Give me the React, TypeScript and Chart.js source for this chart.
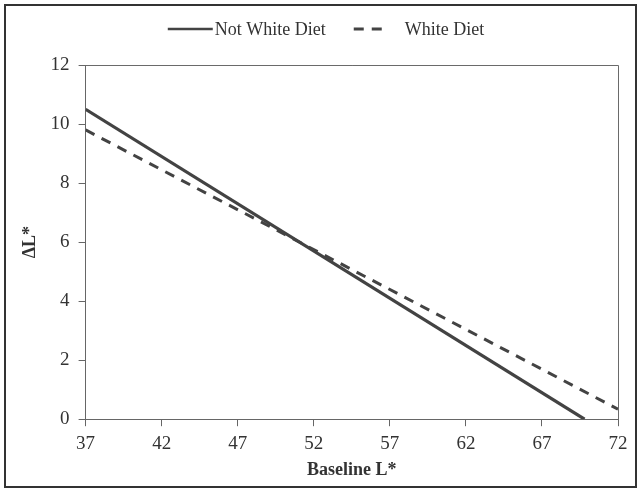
import React, { useEffect, useRef } from "react";
import { Chart, registerables } from "chart.js";

Chart.register(...registerables);

const xValues = [37, 69.8];
const notWhiteDiet = [10.5, 0];
const xValuesWhite = [37, 72];
const whiteDiet = [9.8, 0.34];
const xTicks = [37, 42, 47, 52, 57, 62, 67, 72];
const yTicks = [0, 2, 4, 6, 8, 10, 12];
const seriesNames = ["Not White Diet", "White Diet"];

const FONT = "'Liberation Serif', 'Times New Roman', serif";
const INK = "#434343";

const framePlugin = {
  id: "frame",
  afterDraw(chart: any) {
    const { ctx, chartArea } = chart;
    ctx.save();
    ctx.strokeStyle = "#6a6a6a";
    ctx.lineWidth = 1;
    ctx.beginPath();
    ctx.moveTo(chartArea.left, chartArea.top + 0.5);
    ctx.lineTo(chartArea.right + 0.5, chartArea.top + 0.5);
    ctx.lineTo(chartArea.right + 0.5, chartArea.bottom);
    ctx.stroke();
    ctx.strokeStyle = "#333";
    ctx.lineWidth = 2;
    ctx.strokeRect(5, 5, chart.width - 8, chart.height - 8);
    ctx.restore();
  },
};

// Custom legend: sample line + label for each dataset
const legendPlugin = {
  id: "customLegend",
  afterDraw(chart: any) {
    const { ctx } = chart;
    const ds = chart.data.datasets;
    const sampleW = [45, 30];
    const gapAfter = [2, 21];
    const itemGap = 28;
    ctx.save();
    ctx.font = `18px ${FONT}`;
    ctx.textBaseline = "middle";
    const widths = ds.map((d: any, i: number) => sampleW[i] + gapAfter[i] + ctx.measureText(d.label).width);
    const total = widths.reduce((a: number, b: number) => a + b, 0) + itemGap * (ds.length - 1);
    let x = 326 - total / 2;
    const y = 29;
    ds.forEach((d: any, i: number) => {
      ctx.strokeStyle = d.borderColor;
      ctx.lineWidth = i === 0 ? 2.5 : 3;
      ctx.setLineDash(d.borderDash || []);
      ctx.beginPath();
      ctx.moveTo(x, y);
      ctx.lineTo(x + sampleW[i], y);
      ctx.stroke();
      ctx.setLineDash([]);
      ctx.fillStyle = "#333";
      ctx.fillText(d.label, x + sampleW[i] + gapAfter[i], y + 1);
      x += widths[i] + itemGap;
    });
    ctx.restore();
  },
};

export default function App() {
  const ref = useRef<HTMLCanvasElement>(null);
  useEffect(() => {
    document.body.style.margin = "0";
    const chart = new Chart(ref.current!, {
      type: "line",
      data: {
        datasets: [
          {
            label: seriesNames[0],
            data: xValues.map((x, i) => ({ x, y: notWhiteDiet[i] })),
            borderColor: INK,
            backgroundColor: INK,
            borderWidth: 3.2,
            pointRadius: 0,
            tension: 0,
          },
          {
            label: seriesNames[1],
            data: xValuesWhite.map((x, i) => ({ x, y: whiteDiet[i] })),
            borderColor: INK,
            backgroundColor: INK,
            borderWidth: 3,
            borderDash: [10, 8],
            pointRadius: 0,
            tension: 0,
          },
        ],
      },
      options: {
        animation: false,
        responsive: false,
        maintainAspectRatio: false,
        layout: { padding: { left: 20, right: 21, top: 65, bottom: 11 } },
        plugins: {
          tooltip: { enabled: false },
          legend: { display: false },
        },
        scales: {
          x: {
            type: "linear",
            min: 37,
            max: 72,
            afterBuildTicks: (axis: any) => {
              axis.ticks = xTicks.map((v) => ({ value: v }));
            },
            ticks: { color: "#333", font: { family: FONT, size: 19 }, padding: 6, maxRotation: 0 },
            grid: { drawOnChartArea: false, drawTicks: true, tickLength: 7, color: "#666" },
            border: { display: true, color: "#666", width: 1 },
            title: {
              display: true,
              text: "Baseline L*",
              color: "#333",
              font: { family: FONT, size: 18, weight: "bold", lineHeight: 1 },
              padding: { top: 0, bottom: 0 },
            },
          },
          y: {
            type: "linear",
            min: 0,
            max: 12,
            afterBuildTicks: (axis: any) => {
              axis.ticks = yTicks.map((v) => ({ value: v }));
            },
            ticks: { color: "#333", font: { family: FONT, size: 19 }, padding: 9 },
            grid: { drawOnChartArea: false, drawTicks: true, tickLength: 7, color: "#666" },
            border: { display: true, color: "#666", width: 1 },
            title: {
              display: true,
              text: "ΔL*",
              color: "#333",
              font: { family: FONT, size: 18, weight: "bold" },
              padding: { top: 0, bottom: 0 },
            },
          },
        },
      },
      plugins: [framePlugin, legendPlugin],
    } as any);
    return () => chart.destroy();
  }, []);
  return (
    <div style={{ width: 639, height: 490, background: "#fff" }}>
      <canvas ref={ref} width={639} height={490} style={{ display: "block" }} />
    </div>
  );
}
